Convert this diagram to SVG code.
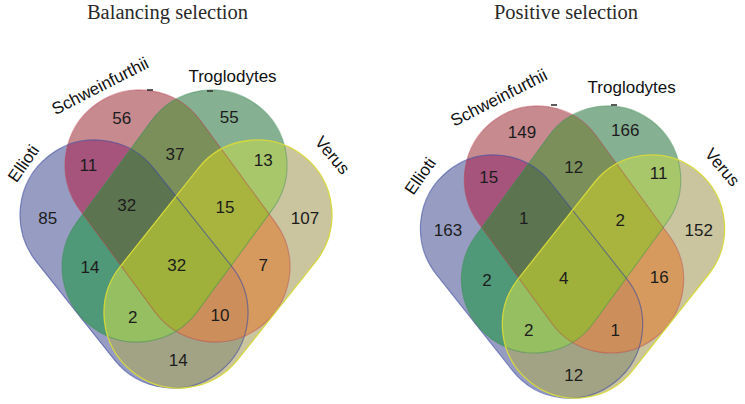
<svg xmlns="http://www.w3.org/2000/svg" xmlns:xlink="http://www.w3.org/1999/xlink" width="745" height="404" viewBox="0 0 745 404">
<style>
.num{font-family:"Liberation Sans",Arial,sans-serif;font-size:17px;fill:#1c1c1c;text-anchor:middle}
.set{font-family:"Liberation Sans",Arial,sans-serif;font-size:17px;fill:#111;text-anchor:middle}
.title{font-family:"Liberation Serif","Times New Roman",serif;font-size:20.5px;fill:#2a2a2a;text-anchor:middle}
.oE{fill:none;stroke:#3b4a9e;stroke-opacity:.6;stroke-width:1.2}
.oS{fill:none;stroke:#b8404e;stroke-opacity:.45;stroke-width:1.1}
.oT{fill:none;stroke:#3a8c52;stroke-opacity:.45;stroke-width:1.1}
.oV{fill:none;stroke:#d6d93a;stroke-opacity:.95;stroke-width:1.3}
.tick{stroke:#333;stroke-width:1.6}
</style>
<defs>
<rect id="shE" x="-137.6" y="-75" width="275.2" height="150" rx="75" transform="translate(134,264) rotate(51.5)"/>
<rect id="shS" x="-138.3" y="-75" width="276.6" height="150" rx="75" transform="translate(177.5,216) rotate(53.7)"/>
<rect id="shT" x="-138.3" y="-75" width="276.6" height="150" rx="75" transform="translate(174.5,216) rotate(-53.7)"/>
<rect id="shV" x="-137.6" y="-75" width="275.2" height="150" rx="75" transform="translate(218,264) rotate(-51.5)"/>
<clipPath id="cE"><use xlink:href="#shE"/></clipPath>
<clipPath id="cS"><use xlink:href="#shS"/></clipPath>
<clipPath id="cT"><use xlink:href="#shT"/></clipPath>
<clipPath id="cV"><use xlink:href="#shV"/></clipPath>
<g id="vennFill">
<use xlink:href="#shE" fill="#979CC3"/>
<use xlink:href="#shS" fill="#C68A8F"/>
<use xlink:href="#shT" fill="#86B092"/>
<use xlink:href="#shV" fill="#CAC49F"/>
<g clip-path="url(#cE)"><use xlink:href="#shS" fill="#A6547C"/></g>
<g clip-path="url(#cE)"><use xlink:href="#shT" fill="#4F9878"/></g>
<g clip-path="url(#cE)"><use xlink:href="#shV" fill="#A2A385"/></g>
<g clip-path="url(#cS)"><use xlink:href="#shT" fill="#7B8F5B"/></g>
<g clip-path="url(#cS)"><use xlink:href="#shV" fill="#D69A5E"/></g>
<g clip-path="url(#cT)"><use xlink:href="#shV" fill="#A8C76B"/></g>
<g clip-path="url(#cE)"><g clip-path="url(#cS)"><use xlink:href="#shT" fill="#5C7450"/></g></g>
<g clip-path="url(#cE)"><g clip-path="url(#cS)"><use xlink:href="#shV" fill="#CC8F5B"/></g></g>
<g clip-path="url(#cE)"><g clip-path="url(#cT)"><use xlink:href="#shV" fill="#95BF61"/></g></g>
<g clip-path="url(#cS)"><g clip-path="url(#cT)"><use xlink:href="#shV" fill="#A8B43E"/></g></g>
<g clip-path="url(#cE)"><g clip-path="url(#cS)"><g clip-path="url(#cT)"><use xlink:href="#shV" fill="#9FB13B"/></g></g></g>
</g>
</defs>

<g id="balancing">
<text class="title" x="167.5" y="19">Balancing selection</text>
<g id="bal-regions"><use xlink:href="#vennFill"/></g>
<g id="bal-elliot"><use xlink:href="#shE" class="oE"/><text class="set" transform="translate(23.3,163.3) rotate(-55)" y="6">Ellioti</text></g>
<g id="bal-schweinfurthii"><use xlink:href="#shS" class="oS"/><line class="tick" x1="147" y1="90" x2="153" y2="90"/><text class="set" transform="translate(100,85.8) rotate(-27)" y="6">Schweinfurthii</text></g>
<g id="bal-troglodytes"><use xlink:href="#shT" class="oT"/><line class="tick" x1="207" y1="91" x2="213" y2="91"/><text class="set" x="232.5" y="82">Troglodytes</text></g>
<g id="bal-verus"><use xlink:href="#shV" class="oV"/><text class="set" transform="translate(332.5,155) rotate(50)" y="6">Verus</text></g>
<g id="bal-counts">
<text class="num" x="121.7" y="124">56</text>
<text class="num" x="229.3" y="123">55</text>
<text class="num" x="88.3" y="171">11</text>
<text class="num" x="175" y="160">37</text>
<text class="num" x="263.3" y="166">13</text>
<text class="num" x="47.7" y="224">85</text>
<text class="num" x="126.7" y="211">32</text>
<text class="num" x="225" y="213">15</text>
<text class="num" x="305" y="224">107</text>
<text class="num" x="90" y="273">14</text>
<text class="num" x="176.7" y="271">32</text>
<text class="num" x="263.3" y="271">7</text>
<text class="num" x="132.7" y="323">2</text>
<text class="num" x="220" y="321">10</text>
<text class="num" x="178.3" y="366">14</text>
</g>
</g>

<g id="positive">
<text class="title" x="566" y="19">Positive selection</text>
<g transform="translate(572.5,253) scale(0.975,0.98) translate(-176,-240)">
<g id="pos-regions"><use xlink:href="#vennFill"/></g>
<g id="pos-elliot"><use xlink:href="#shE" class="oE"/></g>
<g id="pos-schweinfurthii"><use xlink:href="#shS" class="oS"/></g>
<g id="pos-troglodytes"><use xlink:href="#shT" class="oT"/></g>
<g id="pos-verus"><use xlink:href="#shV" class="oV"/></g>
</g>
<line class="tick" x1="551" y1="105" x2="557" y2="105"/>
<line class="tick" x1="611" y1="105" x2="617" y2="105"/>
<g id="pos-labels">
<text class="set" transform="translate(420,176) rotate(-55)" y="6">Ellioti</text>
<text class="set" transform="translate(498.7,97.5) rotate(-27)" y="6">Schweinfurthii</text>
<text class="set" x="631.7" y="93">Troglodytes</text>
<text class="set" transform="translate(722.5,167) rotate(50)" y="6">Verus</text>
</g>
<g id="pos-counts">
<text class="num" x="522" y="138">149</text>
<text class="num" x="625.3" y="136">166</text>
<text class="num" x="488.7" y="183">15</text>
<text class="num" x="573.7" y="173">12</text>
<text class="num" x="658.7" y="179">11</text>
<text class="num" x="448" y="236">163</text>
<text class="num" x="523.7" y="224">1</text>
<text class="num" x="620.3" y="226">2</text>
<text class="num" x="698.7" y="236">152</text>
<text class="num" x="487" y="286">2</text>
<text class="num" x="563.7" y="284">4</text>
<text class="num" x="659.3" y="283">16</text>
<text class="num" x="528.7" y="336">2</text>
<text class="num" x="615.3" y="336">1</text>
<text class="num" x="573.7" y="381">12</text>
</g>
</g>
</svg>
